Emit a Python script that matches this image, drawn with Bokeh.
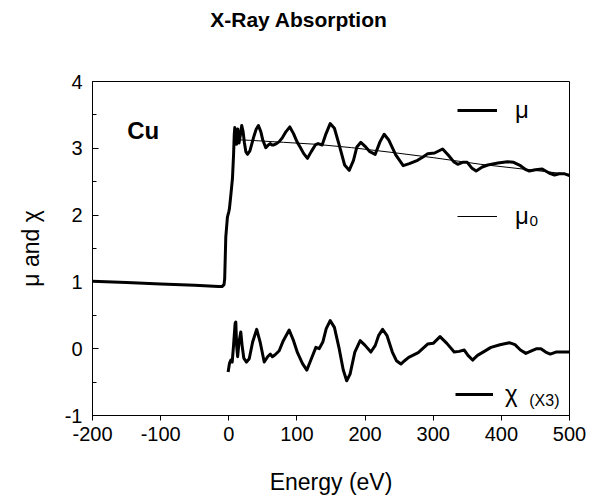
from bokeh.plotting import figure
from bokeh.models import (FixedTicker, Legend, LegendItem, Label, Range1d, Div)
from bokeh.layouts import column
from bokeh.embed import file_html
from bokeh.resources import INLINE

# ---- data ----
mu_E = [-200, -150, -100, -50, -15, -10, -7, -6, -4.4, -2, 0, 1, 3, 5.4, 7, 8, 8.8,
        10, 11.3, 12.3, 13.2, 14.2, 15, 17, 19, 21, 23, 25, 27.4, 31, 36, 40, 43.5, 47, 50,
        54.3, 58, 61, 63.5, 66, 70, 74, 78.8, 84, 89.6, 95, 100, 104, 110, 115.5, 121,
        127, 131, 137, 142, 148.8, 155, 162, 170, 176.7, 183, 188, 193.8, 200, 207,
        214.9, 222, 228, 235, 245, 256, 265, 277, 285, 292, 302, 313.8, 322, 330, 336,
        343, 350, 357, 363, 372, 380, 395, 409, 418, 428, 436, 441, 450, 460, 470, 478,
        485, 492, 500]
mu_V = [1.01, 0.99, 0.97, 0.95, 0.93, 0.93, 0.96, 1.05, 1.67, 1.97, 2.05, 2.10, 2.30, 2.55,
        2.90, 3.20, 3.31, 3.20, 3.06, 3.15, 3.29, 3.18, 3.08, 3.20, 3.34, 3.25, 3.08, 2.95,
        2.91, 2.96, 3.15, 3.28, 3.34, 3.25, 3.12, 3.01, 3.05, 3.07, 3.05, 3.05, 3.07, 3.10,
        3.16, 3.25, 3.32, 3.22, 3.10, 3.03, 2.92, 2.85, 2.95, 3.05, 3.07, 3.05, 3.20, 3.37,
        3.30, 3.05, 2.75, 2.67, 2.82, 3.02, 3.09, 3.03, 2.95, 2.91, 3.10, 3.21, 3.12, 2.90,
        2.74, 2.77, 2.82, 2.87, 2.92, 2.93, 2.99, 2.90, 2.80, 2.76, 2.79, 2.79, 2.70, 2.66,
        2.72, 2.75, 2.78, 2.80, 2.79, 2.74, 2.68, 2.66, 2.68, 2.69, 2.63, 2.60, 2.62, 2.62,
        2.59]

mu0_E = [8, 30, 80, 128, 180, 238, 300, 370, 440, 500]
mu0_V = [3.13, 3.12, 3.09, 3.06, 3.01, 2.94, 2.86, 2.76, 2.68, 2.61]

chi_E = [-1, 1, 3, 5, 7, 9.3, 10.3, 11.5, 13, 15, 17.6, 19.5, 22, 26, 30, 35, 41, 46, 52,
         57, 61, 64, 68, 74, 80, 88.6, 95, 100.8, 108, 114.5, 120, 127.8, 132.6, 138, 143,
         148.8, 155, 162, 168, 173, 178, 185, 192.8, 200, 208.5, 215, 220, 225.7, 232, 240,
         246, 252.6, 258, 264, 278, 291.8, 300, 310, 320, 330.8, 338, 345.6, 351, 357.8,
         365, 375, 384.7, 398, 411.6, 420, 428, 436, 445, 452, 458, 465, 471.8, 480, 490, 500]
chi_V = [-0.35, -0.22, -0.17, -0.20, 0.05, 0.38, 0.40, 0.05, -0.12, 0.10, 0.25, 0.05, -0.14,
         -0.20, -0.15, 0.10, 0.29, 0.10, -0.20, -0.12, -0.08, -0.12, -0.09, -0.03, 0.12,
         0.28, 0.12, -0.06, -0.22, -0.32, -0.18, 0.02, 0.00, 0.10, 0.30, 0.42, 0.32, 0.00,
         -0.32, -0.48, -0.38, -0.05, 0.12, 0.05, -0.05, 0.05, 0.20, 0.29, 0.20, -0.05,
         -0.18, -0.23, -0.18, -0.13, -0.06, 0.07, 0.08, 0.18, 0.08, -0.05, -0.04, -0.02,
         -0.10, -0.17, -0.10, -0.04, 0.02, 0.06, 0.09, 0.06, -0.02, -0.07, -0.03, 0.00,
         0.00, -0.05, -0.08, -0.05, -0.05, -0.05]

x_ticks = [-200, -100, 0, 100, 200, 300, 400, 500]
x_tick_labels = ["-200", "-100", "0", "100", "200", "300", "400", "500"]
y_ticks = [-1, 0, 1, 2, 3, 4]
y_tick_labels = ["-1", "0", "1", "2", "3", "4"]
y_minor = [-0.5, 0.5, 1.5, 2.5, 3.5]

FONT = "Liberation Sans"
TITLE_H = 36

title = Div(text="X-Ray Absorption", width=597, height=TITLE_H, margin=0,
            styles={"font-family": FONT, "font-size": "21px", "font-weight": "bold",
                    "text-align": "center", "padding-top": "5px", "color": "black",
                    "box-sizing": "border-box"})

p = figure(frame_width=477, frame_height=334, output_backend="svg",
           toolbar_location=None, x_range=Range1d(-200, 500), y_range=Range1d(-1, 4),
           min_border_left=92, min_border_right=20, min_border_top=81 - TITLE_H,
           min_border_bottom=73, margin=0)
p.background_fill_color = "white"
p.border_fill_color = "white"
p.outline_line_color = "black"
p.outline_line_width = 1
p.grid.visible = False

xa = p.xaxis[0]
xa.ticker = FixedTicker(ticks=x_ticks)
xa.major_label_overrides = dict(zip(x_ticks, x_tick_labels))
xa.major_tick_in = 0
xa.major_tick_out = 5
xa.minor_tick_in = 0
xa.minor_tick_out = 0
xa.axis_label = "Energy (eV)"
xa.axis_label_text_font = FONT
xa.axis_label_text_font_size = "23px"
xa.axis_label_text_font_style = "normal"
xa.axis_label_standoff = 25
xa.major_label_text_font = FONT
xa.major_label_text_font_size = "20px"
xa.major_label_standoff = 6

ya = p.yaxis[0]
ya.ticker = FixedTicker(ticks=y_ticks, minor_ticks=y_minor)
ya.major_label_overrides = dict(zip(y_ticks, y_tick_labels))
ya.major_tick_in = 6
ya.major_tick_out = 0
ya.minor_tick_in = 4
ya.minor_tick_out = 0
ya.axis_label = "μ and χ"
ya.axis_label_text_font = FONT
ya.axis_label_text_font_size = "23px"
ya.axis_label_text_font_style = "normal"
ya.axis_label_standoff = 18
ya.major_label_text_font = FONT
ya.major_label_text_font_size = "20px"
ya.major_label_standoff = 10

for ax in (xa, ya):
    ax.axis_line_color = "black"
    ax.major_tick_line_color = "black"
    ax.minor_tick_line_color = "black"
    ax.major_label_text_color = "black"
    ax.axis_label_text_color = "black"

r_mu = p.line(mu_E, mu_V, line_color="black", line_width=3, line_join="round")
r_mu0 = p.line(mu0_E, mu0_V, line_color="black", line_width=1)
r_chi = p.line(chi_E, chi_V, line_color="black", line_width=3, line_join="round")

def make_legend(item_label, renderer, loc, size, standoff, gw):
    lg = Legend(items=[LegendItem(label=item_label, renderers=[renderer])],
                location=loc, background_fill_alpha=0, border_line_alpha=0,
                padding=0, margin=0, glyph_width=gw, glyph_height=20,
                label_standoff=standoff, label_text_font=FONT,
                label_text_color="black",
                label_text_font_size=size, label_height=20)
    p.add_layout(lg, "center")

make_legend("μ", r_mu, (365, 291), "24px", 18, 40)
make_legend("μ₀", r_mu0, (365, 185), "24px", 18, 40)
make_legend("χ", r_chi, (363, 7), "24px", 12, 38)

x3 = Label(x=441, y=-0.78, text="(X3)", text_font=FONT, text_font_size="16px",
           text_color="black", text_baseline="alphabetic")
p.add_layout(x3)

cu = Label(x=-149, y=3.26, text="Cu", text_font=FONT, text_font_size="24px",
           text_font_style="bold", text_color="black", text_baseline="alphabetic")
p.add_layout(cu)

layout = column(title, p, spacing=0)
open("out.html", "w").write(file_html(layout, INLINE))
